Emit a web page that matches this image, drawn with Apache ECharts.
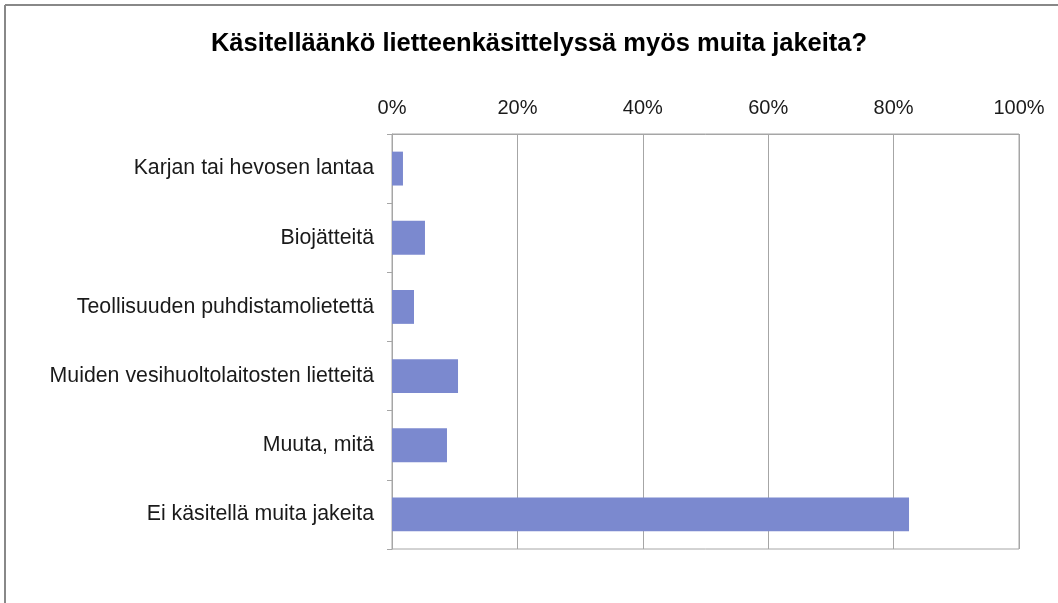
<!DOCTYPE html>
<html>
<head>
<meta charset="utf-8">
<script src="https://cdn.jsdelivr.net/npm/echarts@6/dist/echarts.min.js"></script>
<style>
html,body{margin:0;padding:0;background:#fff;}
#c{width:1058px;height:603px;}
</style>
</head>
<body>
<div id="c"></div>
<script>
const title = 'Käsitelläänkö lietteenkäsittelyssä myös muita jakeita?';
const categories = [
  'Karjan tai hevosen lantaa',
  'Biojätteitä',
  'Teollisuuden puhdistamolietettä',
  'Muiden vesihuoltolaitosten lietteitä',
  'Muuta, mitä',
  'Ei käsitellä muita jakeita'
];
const values = [1.75, 5.26, 3.51, 10.53, 8.77, 82.46];
const xTicks = [0, 20, 40, 60, 80, 100];

const chart = echarts.init(document.getElementById('c'), null, {renderer: 'canvas'});
chart.setOption({
  backgroundColor: '#ffffff',
  animation: false,
  title: {
    text: title,
    left: 534,
    textAlign: 'center',
    top: 26,
    textStyle: {fontFamily: 'Liberation Sans', fontSize: 25.5, fontWeight: 'bold', color: '#000'}
  },
  graphic: [
    {type: 'line', shape: {x1: 5, y1: 5, x2: 1058, y2: 5}, style: {stroke: '#888', lineWidth: 2}},
    {type: 'line', shape: {x1: 5, y1: 5, x2: 5, y2: 603}, style: {stroke: '#888', lineWidth: 2}}
  ],
  grid: {
    left: 392, right: 39, top: 134, bottom: 54,
    show: true, borderColor: '#a6a6a6', borderWidth: 1, backgroundColor: 'transparent'
  },
  xAxis: {
    type: 'value',
    position: 'top',
    min: xTicks[0],
    max: xTicks[xTicks.length - 1],
    interval: 20,
    axisLine: {show: true, lineStyle: {color: '#a6a6a6'}},
    axisTick: {show: false},
    axisLabel: {
      formatter: v => v + '%',
      fontFamily: 'Liberation Sans', fontSize: 20, color: '#1a1a1a', margin: 16
    },
    splitLine: {show: true, lineStyle: {color: '#a6a6a6', width: 1}}
  },
  yAxis: {
    type: 'category',
    data: categories,
    inverse: true,
    axisLine: {show: true, lineStyle: {color: '#a6a6a6'}},
    axisTick: {show: true, length: 5, lineStyle: {color: '#a6a6a6'}},
    axisLabel: {fontFamily: 'Liberation Sans', fontSize: 21.3, color: '#1a1a1a', margin: 18}
  },
  series: [{
    type: 'bar',
    data: values,
    barCategoryGap: '51%',
    itemStyle: {color: '#7b89cf'}
  }]
});
</script>
</body>
</html>
